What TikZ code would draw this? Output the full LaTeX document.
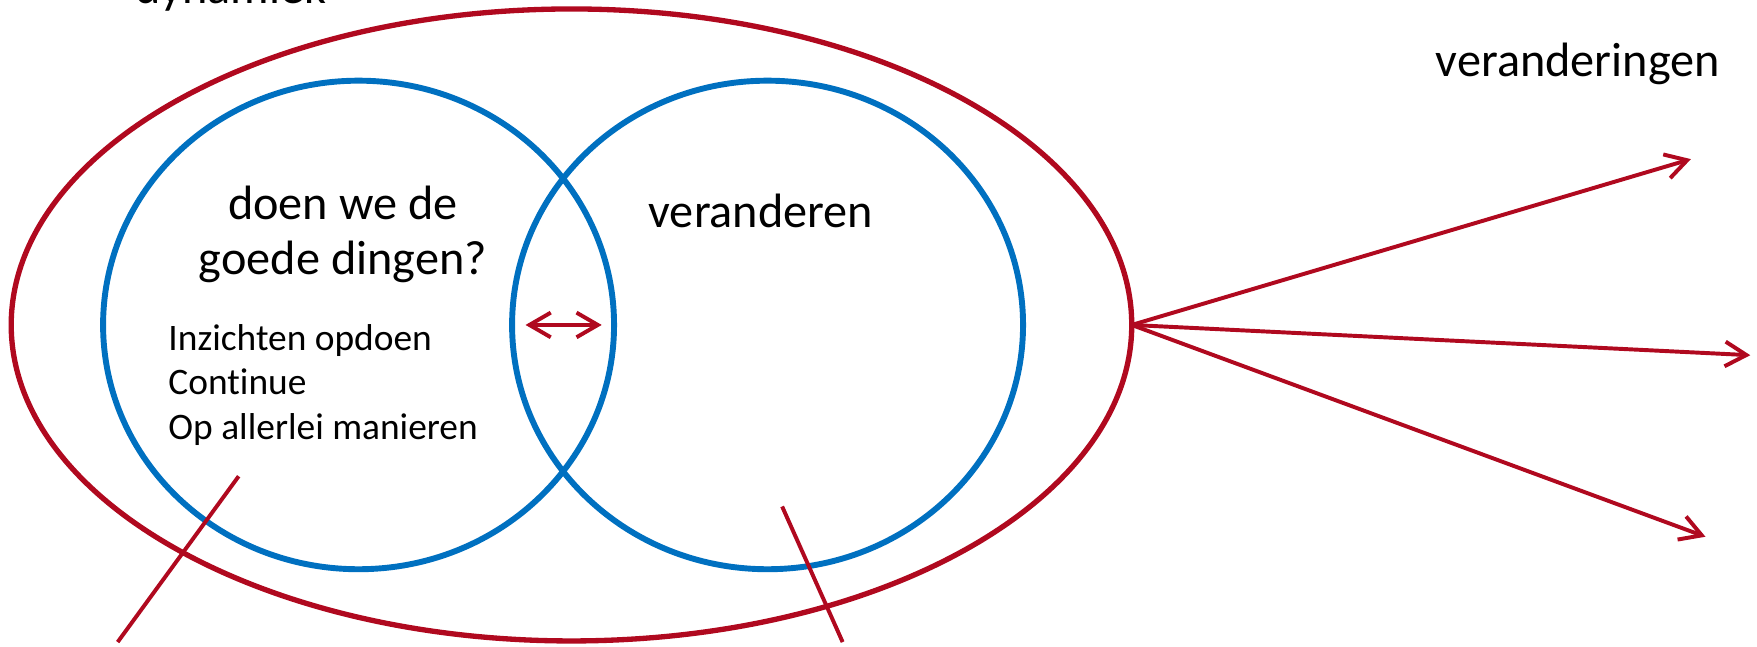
\documentclass[tikz,border=0pt]{standalone}
\usepackage{fontspec}
\setmainfont[Ligatures={NoCommon}]{Carlito}
\usetikzlibrary{arrows.meta}
\definecolor{dred}{HTML}{B0091F}
\definecolor{vblue}{HTML}{0070C0}
\tikzset{
  redring/.style={draw=dred, line width=2.7pt},
  bluering/.style={draw=vblue, line width=3pt},
  redline/.style={draw=dred, line width=2pt},
  redarrow/.style={draw=dred, line width=2pt, -{Straight Barb[length=0.38cm, width=0.44cm, line width=2pt]}},
  bigtext/.style={font=\fontsize{24.5}{29}\selectfont, inner sep=0pt, anchor=base},
  smalltext/.style={font=\fontsize{19}{23}\selectfont, inner sep=0pt, anchor=base west},
}
\begin{document}
\begin{tikzpicture}[x=0.02cm, y=-0.02cm]
\useasboundingbox (0,0) rectangle (1568,577);
% rings
\draw[redring] (510,290) ellipse [x radius=500, y radius=282];
\draw[bluering] (320,290) ellipse [x radius=228, y radius=218];
\draw[bluering] (685,290) ellipse [x radius=228, y radius=218];
% texts
\node[bigtext] (dyn) at (206,3) {dynamiek};
\node[bigtext] (ver) at (1408,68) {veranderingen};
\node[bigtext] (q1) at (306,196) {doen we de};
\node[bigtext] (q2) at (306,245) {goede dingen?};
\node[bigtext] (vr) at (679,203) {veranderen};
\node[smalltext] (s1) at (150,313) {Inzichten opdoen};
\node[smalltext] (s2) at (150,352) {Continue};
\node[smalltext] (s3) at (150,392) {Op allerlei manieren};
% coordinates
\coordinate (src) at (1010,290);
\coordinate (t1) at (1509,142);
\coordinate (t2) at (1562,317);
\coordinate (t3) at (1522,479);
\coordinate (dl) at (469,290);
\coordinate (dr) at (537,290);
\coordinate (a1) at (213,425);
\coordinate (a2) at (105,573);
\coordinate (b1) at (698,452);
\coordinate (b2) at (752,573);
% arrows
\draw[redarrow] (src) -- (t1);
\draw[redarrow] (src) -- (t2);
\draw[redarrow] (src) -- (t3);
\draw[draw=dred, line width=2pt, {Straight Barb[length=0.38cm, width=0.44cm, line width=2pt]}-{Straight Barb[length=0.38cm, width=0.44cm, line width=2pt]}] (dl) -- (dr);
\draw[redline] (a1) -- (a2);
\draw[redline] (b1) -- (b2);
\end{tikzpicture}
\end{document}
